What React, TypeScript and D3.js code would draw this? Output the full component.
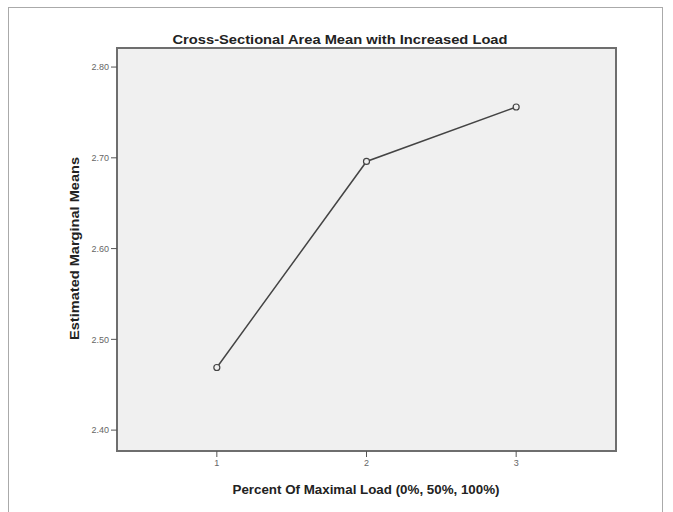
import * as d3 from "d3";

const loadLevels = [1, 2, 3];
const marginalMeans = [2.469, 2.696, 2.756];
const yTicks = [2.4, 2.5, 2.6, 2.7, 2.8];

const W = 673;
const H = 512;
const plot = { left: 117, top: 48, right: 616, bottom: 451 };

export default function App() {
  const x = d3
    .scaleLinear()
    .domain([1 - 0.667, 3 + 0.667])
    .range([plot.left, plot.right]);

  const y = d3
    .scaleLinear()
    .domain([2.377, 2.821])
    .range([plot.bottom, plot.top]);

  const data = loadLevels.map((l, i) => ({ level: l, mean: marginalMeans[i] }));

  const line = d3
    .line<{ level: number; mean: number }>()
    .x((d) => x(d.level))
    .y((d) => y(d.mean));

  return (
    <svg
      width={W}
      height={H}
      style={{ position: "absolute", left: 0, top: 0, background: "#fff" }}
      fontFamily="Arial, 'Liberation Sans', sans-serif"
    >
      {/* outer frame */}
      <rect x={8.5} y={7.5} width={654} height={520} fill="#fff" stroke="#aaa" strokeWidth={1} />

      <text
        x={340}
        y={44}
        textAnchor="middle"
        fontSize={13}
        fontWeight="bold"
        fill="#222"
        textLength={335}
        lengthAdjust="spacingAndGlyphs"
      >
        Cross-Sectional Area Mean with Increased Load
      </text>

      {/* plot area */}
      <rect
        x={plot.left}
        y={plot.top}
        width={plot.right - plot.left}
        height={plot.bottom - plot.top}
        fill="#f0f0f0"
        stroke="#6e6e6e"
        strokeWidth={2}
      />

      {/* y ticks */}
      {yTicks.map((t) => (
        <g key={t} transform={`translate(${plot.left},${y(t)})`}>
          <line x1={-6} x2={0} stroke="#555" strokeWidth={1} />
          <text x={-8} dy="0.35em" textAnchor="end" fontSize={9} fill="#666">
            {d3.format(".2f")(t)}
          </text>
        </g>
      ))}

      {/* x ticks */}
      {loadLevels.map((l) => (
        <g key={l} transform={`translate(${x(l)},${plot.bottom})`}>
          <line y1={0} y2={6} stroke="#555" strokeWidth={1} />
          <text y={15} textAnchor="middle" fontSize={9} fill="#666">
            {l}
          </text>
        </g>
      ))}

      <path d={line(data) ?? ""} fill="none" stroke="#444" strokeWidth={1.5} />
      {data.map((d) => (
        <circle
          key={d.level}
          cx={x(d.level)}
          cy={y(d.mean)}
          r={3}
          fill="#f0f0f0"
          stroke="#444"
          strokeWidth={1.2}
        />
      ))}

      <text
        x={366}
        y={494}
        textAnchor="middle"
        fontSize={12}
        fontWeight="bold"
        fill="#222"
        textLength={267}
        lengthAdjust="spacingAndGlyphs"
      >
        Percent Of Maximal Load (0%, 50%, 100%)
      </text>

      <text
        transform={`translate(79,${248.5}) rotate(-90)`}
        textAnchor="middle"
        fontSize={12}
        fontWeight="bold"
        fill="#222"
        textLength={183}
        lengthAdjust="spacingAndGlyphs"
      >
        Estimated Marginal Means
      </text>
    </svg>
  );
}
